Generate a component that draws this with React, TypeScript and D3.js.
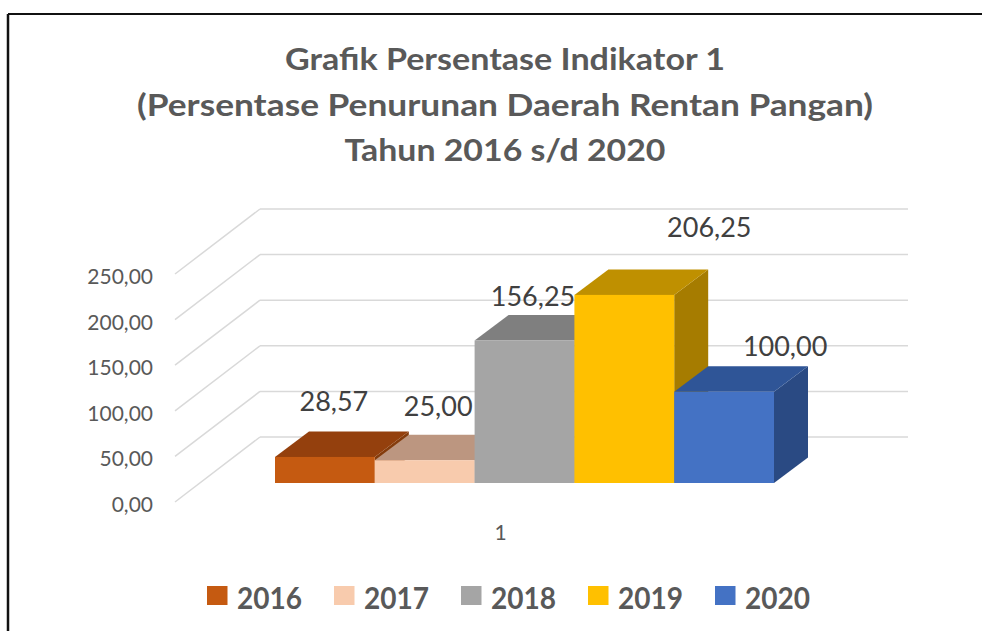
import React from "react";
import * as d3 from "d3";

const years = ["2016", "2017", "2018", "2019", "2020"];
const values = [28.57, 25.0, 156.25, 206.25, 100.0];
const yTicks = [0, 50, 100, 150, 200, 250];
const categoryLabel = "1";
const titleLines = [
  "Grafik Persentase Indikator 1",
  "(Persentase Penurunan Daerah Rentan Pangan)",
  "Tahun 2016 s/d 2020",
];

// styles
const frontColors = ["#C55A11", "#F8CBAD", "#A5A5A5", "#FFC000", "#4472C4"];
const topColors = ["#94400D", "#BC9680", "#7F7F7F", "#BF9000", "#2F5597"];
const sideColors = ["#843C0C", "#A8876F", "#6E6E6E", "#A67C00", "#2A4A83"];
const labelNudges: [number, number][] = [
  [9, -46],
  [13.5, -44],
  [8.5, -35],
  [85, -58],
  [61, -36],
];

const W = 982;
const H = 631;

const fmt = (v: number) => d3.format(".2f")(v).replace(".", ",");

export default function App() {
  const yScale = d3.scaleLinear().domain([0, 250]).range([0, 228]);
  const xBand = d3.scaleBand<string>().domain(years).range([275, 774]).padding(0);

  const wallFrontX = 175;
  const wallBackX = 260;
  const wallRightX = 908;
  const frontFloorY = 502;
  const backFloorY = 437;
  const barFloorY = 483;
  const dX = 34;
  const dY = -25.5;

  const font = "Lato, 'Open Sans', sans-serif";
  const titleWidths = [440, 736, 321];

  return (
    <svg
      width={W}
      height={H}
      viewBox={`0 0 ${W} ${H}`}
      style={{ position: "fixed", left: 0, top: 0, background: "#fff" }}
    >
      <rect x={0} y={0} width={W} height={H} fill="#fff" />
      {/* frame */}
      <line x1={8} y1={14} x2={W} y2={14} stroke="#111" strokeWidth={2} />
      <line x1={8} y1={14} x2={8} y2={H} stroke="#111" strokeWidth={2.5} />

      {/* title */}
      {titleLines.map((t, i) => (
        <text
          key={i}
          x={505}
          y={70 + i * 45.5}
          textAnchor="middle"
          fontFamily={font}
          fontWeight={700}
          fontSize={30.5}
          fill="#595959"
          textLength={titleWidths[i]}
          lengthAdjust="spacingAndGlyphs"
        >
          {t}
        </text>
      ))}

      {/* grid */}
      {yTicks.map((t) => {
        const fy = frontFloorY - yScale(t);
        const by = backFloorY - yScale(t);
        return (
          <g key={t}>
            <line x1={wallFrontX} y1={fy} x2={wallBackX} y2={by} stroke="#D9D9D9" strokeWidth={1.5} />
            <line x1={wallBackX} y1={by} x2={wallRightX} y2={by} stroke="#D9D9D9" strokeWidth={1.5} />
            <text
              x={153}
              y={fy + 10}
              textAnchor="end"
              fontFamily={font}
              fontSize={21}
              fill="#595959"
            >
              {fmt(t)}
            </text>
          </g>
        );
      })}

      {/* bars */}
      {years.map((yr, i) => {
        const x0 = xBand(yr)!;
        const w = xBand.bandwidth();
        const yt = barFloorY - yScale(values[i]);
        const yb = barFloorY;
        const top = [
          [x0, yt],
          [x0 + w, yt],
          [x0 + w + dX, yt + dY],
          [x0 + dX, yt + dY],
        ];
        const side = [
          [x0 + w, yt],
          [x0 + w + dX, yt + dY],
          [x0 + w + dX, yb + dY],
          [x0 + w, yb],
        ];
        return (
          <g key={yr}>
            <polygon points={side.map((p) => p.join(",")).join(" ")} fill={sideColors[i]} />
            <polygon points={top.map((p) => p.join(",")).join(" ")} fill={topColors[i]} />
            <rect x={x0} y={yt} width={w} height={yb - yt} fill={frontColors[i]} />
          </g>
        );
      })}

      {/* data labels */}
      {years.map((yr, i) => {
        const cx = xBand(yr)! + xBand.bandwidth() / 2;
        const yt = barFloorY - yScale(values[i]);
        return (
          <text
            key={yr}
            x={cx + labelNudges[i][0]}
            y={yt + labelNudges[i][1]}
            textAnchor="middle"
            fontFamily={font}
            fontSize={27}
            fill="#404040"
          >
            {fmt(values[i])}
          </text>
        );
      })}

      {/* category label */}
      <text x={500.5} y={540} textAnchor="middle" fontFamily={font} fontSize={21} fill="#595959">
        {categoryLabel}
      </text>

      {/* legend */}
      {years.map((yr, i) => {
        const lx = 207 + i * 127;
        return (
          <g key={yr}>
            <rect x={lx} y={586} width={20.5} height={19} fill={frontColors[i]} />
            <text
              x={lx + 30}
              y={609}
              fontFamily={font}
              fontWeight={700}
              fontSize={30.5}
              fill="#595959"
              textLength={65}
              lengthAdjust="spacingAndGlyphs"
            >
              {yr}
            </text>
          </g>
        );
      })}
    </svg>
  );
}
